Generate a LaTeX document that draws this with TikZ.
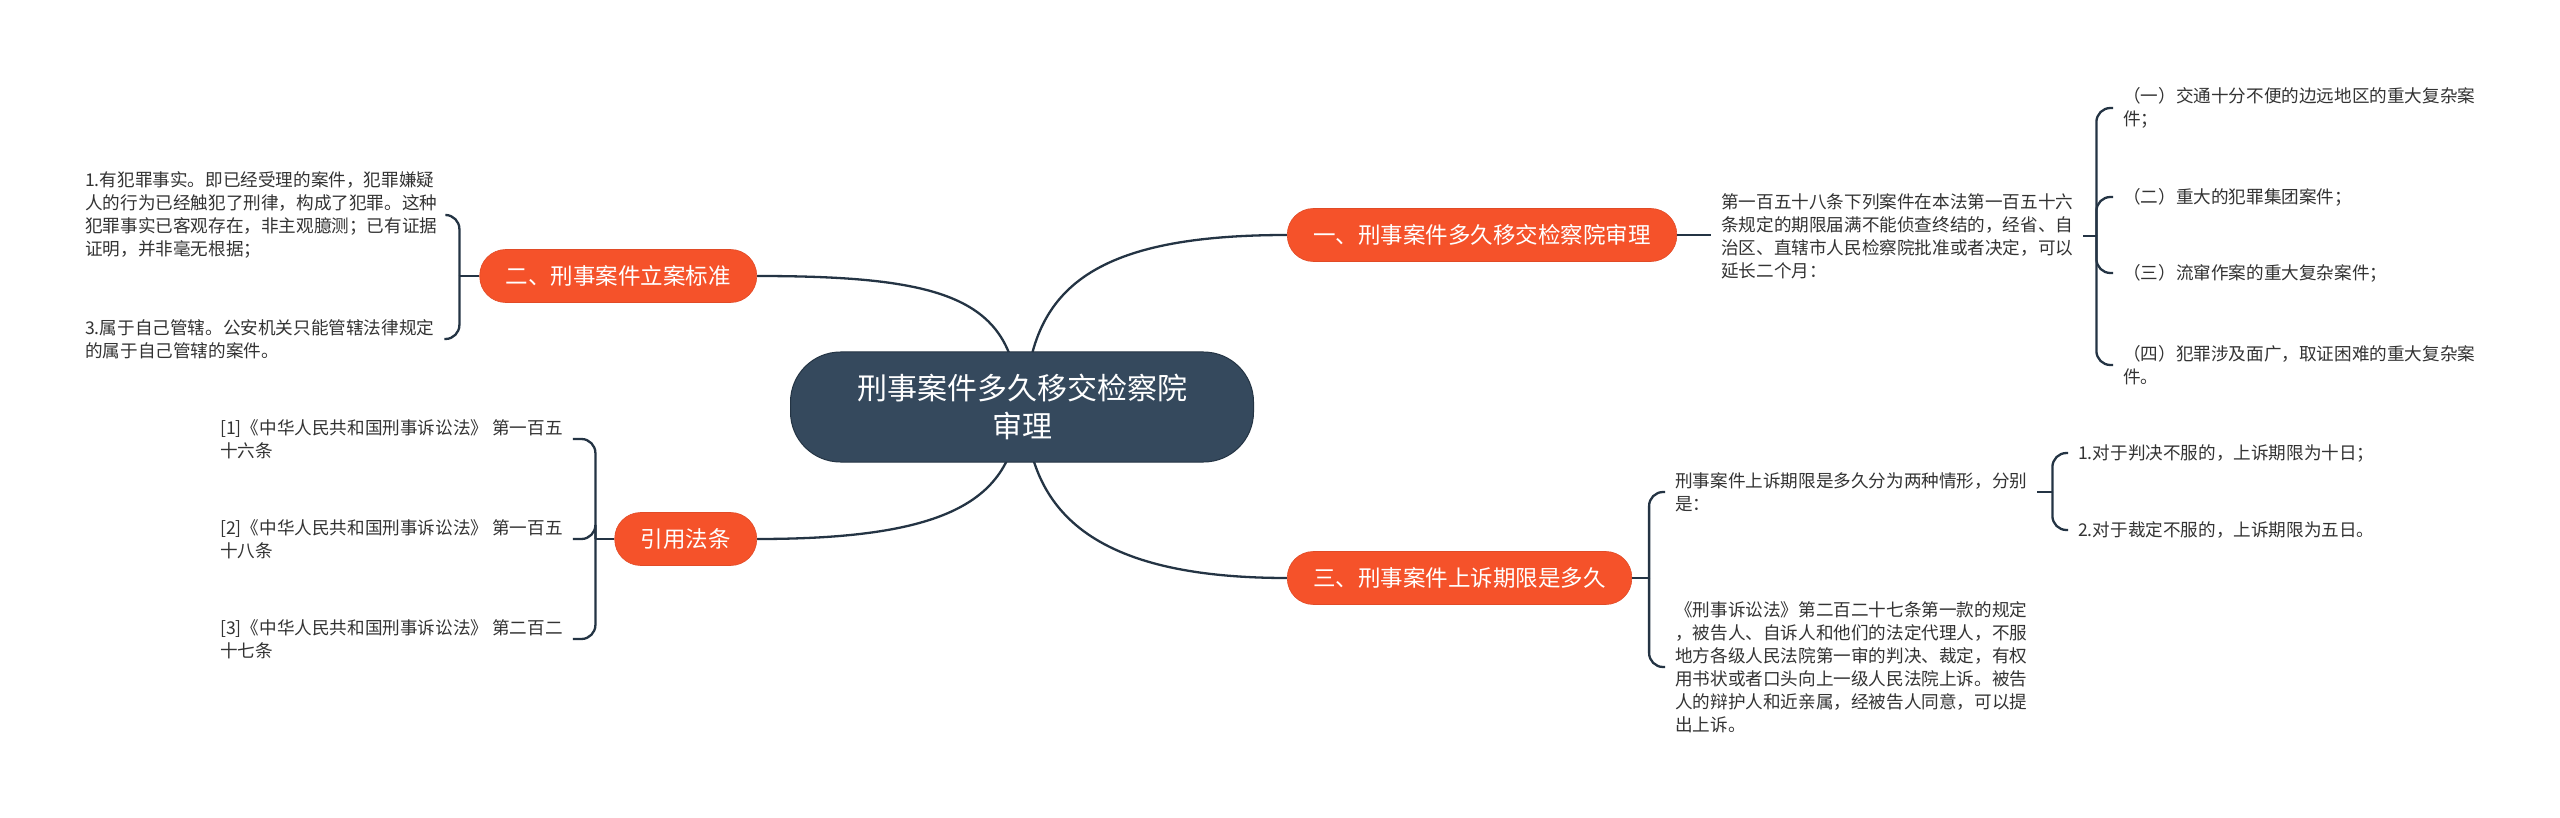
\documentclass[tikz,border=0pt]{standalone}
\usepackage{fontspec}
\setmainfont{Noto Sans CJK SC}
\usetikzlibrary{backgrounds}
\definecolor{branchc}{RGB}{245,82,42}
\definecolor{rootc}{RGB}{53,73,93}
\definecolor{linec}{RGB}{36,52,68}
\definecolor{textc}{RGB}{51,51,51}
\begin{document}
\begin{tikzpicture}[x=1pt,y=-1pt,
  rootbox/.style={fill=rootc,draw=linec,line width=1pt,rounded corners=50pt,text=white,
    font=\fontsize{30}{38}\selectfont,align=center,minimum width=463pt,minimum height=110pt,inner sep=0pt},
  branchbox/.style={fill=branchc,draw=branchc!92!black,line width=0.6pt,rounded corners=26pt,text=white,
    font=\fontsize{22.5}{27}\selectfont,minimum height=53pt,inner xsep=26pt,inner ysep=0pt},
  leaftext/.style={text=textc,font=\fontsize{17.6}{23}\selectfont,align=left,inner xsep=10pt,inner ysep=2pt},
  conn/.style={draw=linec,line width=2.3pt},
  brace/.style={draw=linec,line width=2.3pt,rounded corners=14pt},
]
\useasboundingbox (0,0) rectangle (2560,818);

% root and branches
\node[rootbox] (root) at (1022,407) {刑事案件多久移交检察院\\审理};
\node[branchbox,anchor=west] (b1) at (1287,235) {一、刑事案件多久移交检察院审理};
\node[branchbox,anchor=east] (b2) at (757,276) {二、刑事案件立案标准};
\node[branchbox,anchor=west] (b3) at (1287,578) {三、刑事案件上诉期限是多久};
\node[branchbox,anchor=east] (b4) at (757,539) {引用法条};

% branch 1 leaves
\node[leaftext,anchor=west] (l1) at (1711,236) {第一百五十八条下列案件在本法第一百五十六\\条规定的期限届满不能侦查终结的，经省、自\\治区、直辖市人民检察院批准或者决定，可以\\延长二个月：};
\node[leaftext,anchor=west] (c1) at (2113,108) {（一）交通十分不便的边远地区的重大复杂案\\件；};
\node[leaftext,anchor=west] (c2) at (2113,197) {（二）重大的犯罪集团案件；};
\node[leaftext,anchor=west] (c3) at (2113,273) {（三）流窜作案的重大复杂案件；};
\node[leaftext,anchor=west] (c4) at (2113,365) {（四）犯罪涉及面广，取证困难的重大复杂案\\件。};

% branch 3 leaves
\node[leaftext,anchor=west] (l31) at (1665,492) {刑事案件上诉期限是多久分为两种情形，分别\\是：};
\node[leaftext,anchor=west] (l32) at (1665,667) {《刑事诉讼法》第二百二十七条第一款的规定\\，被告人、自诉人和他们的法定代理人，不服\\地方各级人民法院第一审的判决、裁定，有权\\用书状或者口头向上一级人民法院上诉。被告\\人的辩护人和近亲属，经被告人同意，可以提\\出上诉。};
\node[leaftext,anchor=west] (l311) at (2068,453) {1.对于判决不服的，上诉期限为十日；};
\node[leaftext,anchor=west] (l312) at (2068,530) {2.对于裁定不服的，上诉期限为五日。};

% branch 2 leaves
\node[leaftext,anchor=west] (l21) at (75,215) {1.有犯罪事实。即已经受理的案件，犯罪嫌疑\\人的行为已经触犯了刑律，构成了犯罪。这种\\犯罪事实已客观存在，非主观臆测；已有证据\\证明，并非毫无根据；};
\node[leaftext,anchor=west] (l23) at (75,339) {3.属于自己管辖。公安机关只能管辖法律规定\\的属于自己管辖的案件。};

% branch 4 leaves
\node[leaftext,anchor=west] (l41) at (210,439) {[1]《中华人民共和国刑事诉讼法》 第一百五\\十六条};
\node[leaftext,anchor=west] (l42) at (210,539) {[2]《中华人民共和国刑事诉讼法》 第一百五\\十八条};
\node[leaftext,anchor=west] (l43) at (210,639) {[3]《中华人民共和国刑事诉讼法》 第二百二\\十七条};

\begin{pgfonlayer}{background}
\fill[white] (0,0) rectangle (2560,818);
\draw[conn] ([xshift=3pt]root.center) .. controls +(4,-117) and +(-197,0) .. (b1.west);
\draw[conn] ([xshift=-3pt]root.center) .. controls +(-4,-107) and +(193,0) .. (b2.east);
\draw[conn] ([xshift=-3pt]root.center) .. controls +(-4,93) and +(193,0) .. (b4.east);
\draw[conn] ([xshift=3pt]root.center) .. controls +(4,103) and +(-197,0) .. (b3.west);
\end{pgfonlayer}

% branch 1 brackets
\draw[conn] (b1.east) -- (b1.east -| l1.west);
\draw[conn] (l1.east) -- ++(13,0) coordinate (k1);
\foreach \c in {c1,c2,c3,c4} \draw[brace] (k1) |- (\c.west);

% branch 3 brackets
\draw[conn] (b3.east) -- ++(17,0) coordinate (k3);
\draw[brace] (k3) |- (l31.west);
\draw[brace] (k3) |- (l32.west);
\draw[conn] (l31.east) -- ++(15,0) coordinate (k31);
\draw[brace] (k31) |- (l311.west);
\draw[brace] (k31) |- (l312.west);

% branch 2 brackets
\draw[conn] (b2.west) -- ++(-20,0) coordinate (k2);
\draw[brace] (k2) |- (l21.east);
\draw[brace] (k2) |- (l23.east);

% branch 4 brackets
\draw[conn] (b4.west) -- ++(-19,0) coordinate (k4);
\foreach \c in {l41,l42,l43} \draw[brace] (k4) |- (\c.east);
\end{tikzpicture}
\end{document}
